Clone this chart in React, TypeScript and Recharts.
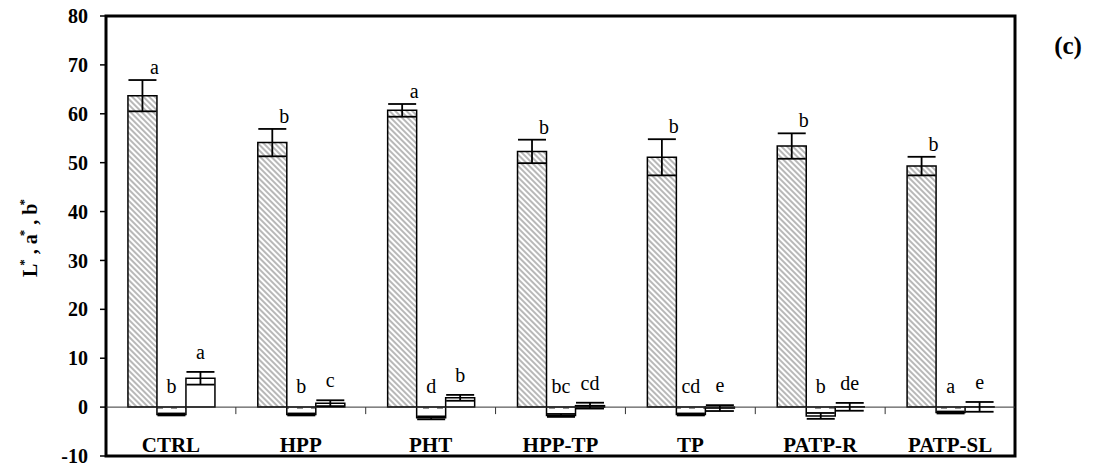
import { BarChart, Bar, XAxis, YAxis, ErrorBar, LabelList, ReferenceLine } from 'recharts';

const categories = ['CTRL', 'HPP', 'PHT', 'HPP-TP', 'TP', 'PATP-R', 'PATP-SL'];

// L* (lightness)
const lValues = [63.7, 54.1, 60.7, 52.3, 51.1, 53.4, 49.3];
const lErrors = [3.2, 2.8, 1.3, 2.4, 3.7, 2.6, 1.9];
const lLetters = ['a', 'b', 'a', 'b', 'b', 'b', 'b'];

// a* (red/green)
const aValues = [-1.5, -1.5, -2.2, -1.7, -1.5, -1.8, -1.1];
const aErrors = [0.2, 0.2, 0.3, 0.3, 0.2, 0.6, 0.2];
const aLetters = ['b', 'b', 'd', 'bc', 'cd', 'b', 'a'];

// b* (yellow/blue)
const bValues = [5.9, 0.8, 1.9, 0.3, -0.2, 0.06, 0.05];
const bErrors = [1.3, 0.6, 0.6, 0.6, 0.6, 0.8, 1.0];
const bLetters = ['a', 'c', 'b', 'cd', 'e', 'de', 'e'];

const yTicks = [-10, 0, 10, 20, 30, 40, 50, 60, 70, 80];

const data = categories.map((name, i) => ({
  name,
  L: lValues[i],
  lErr: lErrors[i],
  a: aValues[i],
  aErr: aErrors[i],
  b: bValues[i],
  bErr: bErrors[i],
}));

const W = 1094;
const H = 474;
const MARGIN = { top: 16, right: 79, bottom: 0, left: 0 };
const X_AXIS_H = 18;
const Y_MIN = -10;
const Y_MAX = 80;
const PLOT_H = H - MARGIN.top - MARGIN.bottom - X_AXIS_H;
const PX_PER_UNIT = PLOT_H / (Y_MAX - Y_MIN);

const SERIF = "'Liberation Serif', serif";

type Kind = 'L' | 'a' | 'b';

// significance letters above each bar
const letterLabel = (kind: Kind, letters: string[], values: number[], errors: number[]) => (props: any) => {
  const box = props.viewBox && props.viewBox.width !== undefined ? props.viewBox : props;
  const { x, y, width, height } = box;
  const i = props.index;
  if (i === undefined || x === undefined) return null;
  const v = values[i];
  const top = Math.min(y, y + height);
  const bottom = Math.max(y, y + height);
  const valuePx = v >= 0 ? top : bottom;
  const zeroPx = v >= 0 ? bottom : top;
  const errTop = valuePx - errors[i] * PX_PER_UNIT;
  let tx = x + width / 2;
  let ty = errTop - 13;
  if (kind === 'L') {
    tx += 12;
    ty = errTop - 6;
  } else if (kind === 'a') {
    ty = zeroPx - 14;
  }
  return (
    <text x={tx} y={ty} textAnchor="middle" fontSize={20} fill="#000">
      {letters[i]}
    </text>
  );
};

// zero line with short marks between categories
const zeroLine = (props: any) => {
  const { x1, x2, y1 } = props;
  const step = (x2 - x1) / categories.length;
  return (
    <g>
      <line x1={x1} x2={x2} y1={y1} y2={y1} stroke="#333" strokeWidth={1} />
      {categories.slice(1).map((c, k) => (
        <line key={c} x1={x1 + step * (k + 1)} x2={x1 + step * (k + 1)} y1={y1} y2={y1 + 7} stroke="#333" strokeWidth={1} />
      ))}
    </g>
  );
};

// heavy box around the plot, hung off the bottom reference line
const plotFrame = (props: any) => {
  const { x1, x2, y1 } = props;
  return (
    <rect x={x1} y={y1 - PLOT_H} width={x2 - x1} height={PLOT_H} fill="none" stroke="#000" strokeWidth={3} />
  );
};

const yAxisLabel = (props: any) => {
  const vb = props.viewBox || { x: 0, y: MARGIN.top, height: PLOT_H };
  const cx = vb.x + 37;
  const cy = vb.y + vb.height / 2 + 2;
  return (
    <text
      x={cx}
      y={cy}
      transform={`rotate(-90 ${cx} ${cy})`}
      textAnchor="middle"
      fontWeight="bold"
      fontSize={20}
      fill="#000"
    >
      L<tspan dx={-2} dy={-9} fontSize={13}>*</tspan>
      <tspan dy={9}> , a</tspan>
      <tspan dx={-2} dy={-9} fontSize={13}>*</tspan>
      <tspan dy={9}> , b</tspan>
      <tspan dx={-2} dy={-9} fontSize={13}>*</tspan>
    </text>
  );
};

const categoryTick = (props: any) => {
  const { x, y, payload } = props;
  return (
    <text x={x} y={y - 6} textAnchor="middle" fontWeight="bold" fontSize={21} fill="#000">
      {payload.value}
    </text>
  );
};

export default function App() {
  return (
    <div style={{ position: 'relative', width: W, height: H, fontFamily: SERIF }}>
      <style>{"body{margin:0;} svg text{font-family:'Liberation Serif',serif;}"}</style>
      <BarChart
        width={W}
        height={H}
        data={data}
        margin={MARGIN}
        barCategoryGap="16.9%"
        barGap={0}
      >
        <defs>
          <pattern id="hatch" patternUnits="userSpaceOnUse" width={4} height={4} patternTransform="rotate(-45)">
            <rect width={4} height={4} fill="#fff" />
            <line x1={1} y1={0} x2={1} y2={4} stroke="#9a9a9a" strokeWidth={1.4} />
          </pattern>
          <pattern id="dashes" patternUnits="userSpaceOnUse" width={14} height={9} x={0} y={2}>
            <rect width={14} height={9} fill="#fff" />
            <line x1={3} y1={1} x2={9} y2={1} stroke="#6e6e6e" strokeWidth={1.5} />
          </pattern>
        </defs>
        <XAxis
          dataKey="name"
          height={X_AXIS_H}
          axisLine={false}
          tickLine={false}
          tickSize={0}
          tick={categoryTick}
          interval={0}
        />
        <YAxis
          width={106}
          domain={[Y_MIN, Y_MAX]}
          ticks={yTicks}
          interval={0}
          axisLine={false}
          tickLine={{ stroke: '#000', strokeWidth: 1.5 }}
          tickSize={6}
          tickMargin={12}
          tick={{ fontWeight: 'bold', fontSize: 20, fill: '#000' }}
          label={{ content: yAxisLabel }}
        />
        <ReferenceLine y={Y_MIN} ifOverflow="visible" shape={plotFrame} />
        <ReferenceLine y={0} shape={zeroLine} />
        <Bar dataKey="L" fill="url(#hatch)" stroke="#000" strokeWidth={1.5} isAnimationActive={false}>
          <ErrorBar dataKey="lErr" width={14} stroke="#000" strokeWidth={1.8} isAnimationActive={false} />
          <LabelList dataKey="L" content={letterLabel('L', lLetters, lValues, lErrors)} />
        </Bar>
        <Bar dataKey="a" fill="url(#dashes)" stroke="#000" strokeWidth={1.5} isAnimationActive={false}>
          <ErrorBar dataKey="aErr" width={14} stroke="#000" strokeWidth={1.8} isAnimationActive={false} />
          <LabelList dataKey="a" content={letterLabel('a', aLetters, aValues, aErrors)} />
        </Bar>
        <Bar dataKey="b" fill="#fff" stroke="#000" strokeWidth={1.5} isAnimationActive={false}>
          <ErrorBar dataKey="bErr" width={14} stroke="#000" strokeWidth={1.8} isAnimationActive={false} />
          <LabelList dataKey="b" content={letterLabel('b', bLetters, bValues, bErrors)} />
        </Bar>
      </BarChart>
      <svg width={W} height={H} style={{ position: 'absolute', left: 0, top: 0, pointerEvents: 'none' }}>
        <text x={1068} y={54} textAnchor="middle" fontWeight="bold" fontSize={25} fill="#000">
          (c)
        </text>
      </svg>
    </div>
  );
}
